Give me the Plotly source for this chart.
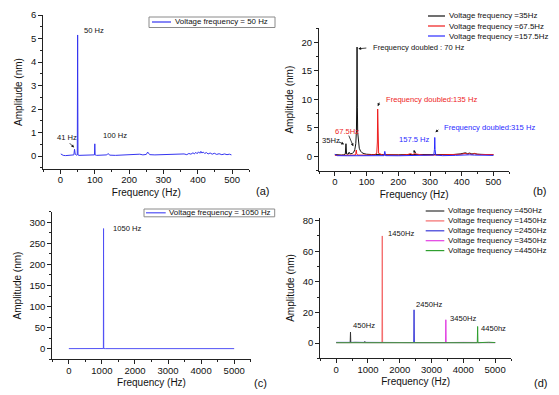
import plotly.graph_objects as go

W, H = 559, 395

# ---------------- data ----------------
# (a) voltage frequency 50 Hz
freq_a = [1, 3, 5, 8, 15, 25, 35, 39, 41, 43, 46, 49, 50, 51, 54, 65, 80, 95, 99, 100,
          101, 105, 120, 135, 139, 143, 160, 175, 190, 205, 220, 231, 240, 250, 254, 256, 260, 275, 290, 305,
          320, 335, 350, 360, 368, 374, 380, 386, 390, 394, 398, 402, 406, 409, 412, 416, 420, 425, 430, 436,
          442, 448, 455, 462, 470, 478, 485, 492, 498]
amp_a = [0.09, 0.06, 0.03, 0.03, 0.02, 0.03, 0.03, 0.05, 0.29, 0.08, 0.04, 0.05, 5.15, 0.05, 0.03, 0.03, 0.04, 0.03, 0.05, 0.52,
         0.05, 0.03, 0.04, 0.05, 0.11, 0.04, 0.03, 0.04, 0.06, 0.04, 0.05, 0.08, 0.05, 0.07, 0.17, 0.12, 0.06, 0.05, 0.06, 0.04,
         0.05, 0.06, 0.07, 0.09, 0.06, 0.11, 0.08, 0.14, 0.09, 0.16, 0.1, 0.18, 0.12, 0.2, 0.13, 0.17, 0.11, 0.15, 0.09, 0.13,
         0.08, 0.12, 0.07, 0.1, 0.06, 0.09, 0.06, 0.08, 0.05]
name_a = "Voltage frequency = 50 Hz"

# (b) 35 Hz, 67.5 Hz, 157.5 Hz
freq_b35 = [0, 5, 12, 20, 28, 33, 35, 37, 42, 45, 48, 55, 60, 63, 66, 68, 69, 70, 71, 72,
            74, 77, 81, 86, 92, 100, 115, 130, 150, 175, 200, 225, 250, 275, 300, 325, 350, 375, 395, 405,
            412, 418, 425, 432, 440, 450, 465, 480, 500]
amp_b35 = [0.3, 0.25, 0.2, 0.2, 0.25, 0.4, 2.2, 0.4, 0.35, 0.7, 0.4, 0.5, 0.75, 1.2, 2.2, 4.5, 9.0, 19.2, 8.5, 4.2,
           2.3, 1.4, 0.9, 0.6, 0.45, 0.35, 0.3, 0.28, 0.25, 0.25, 0.25, 0.3, 0.3, 0.25, 0.25, 0.25, 0.3, 0.3, 0.4, 0.5,
           0.6, 0.45, 0.55, 0.4, 0.45, 0.35, 0.3, 0.3, 0.25]
freq_b67 = [0, 20, 45, 64, 66, 67.5, 69, 72, 100, 125, 132, 134, 135, 136, 138, 150, 180, 210, 230, 238,
            245, 252, 260, 268, 280, 310, 350, 380, 400, 410, 418, 425, 432, 440, 448, 460, 480, 500]
amp_b67 = [0.15, 0.15, 0.15, 0.2, 0.5, 1.1, 0.4, 0.2, 0.2, 0.25, 0.5, 2.5, 8.3, 2.5, 0.5, 0.25, 0.2, 0.2, 0.3, 0.45,
           0.3, 0.45, 0.35, 0.25, 0.2, 0.2, 0.25, 0.3, 0.35, 0.5, 0.35, 0.45, 0.3, 0.5, 0.35, 0.3, 0.35, 0.3]
freq_b157 = [0, 3, 8, 40, 80, 120, 155, 157.5, 160, 200, 250, 290, 312, 314, 315, 316, 318, 340, 380, 400,
             415, 425, 440, 460, 480, 500]
amp_b157 = [0.35, 0.3, 0.1, 0.08, 0.08, 0.08, 0.1, 0.85, 0.1, 0.08, 0.1, 0.1, 0.2, 1.2, 3.3, 1.2, 0.2, 0.1, 0.15, 0.2,
            0.3, 0.25, 0.2, 0.2, 0.15, 0.15]
names_b = ["Voltage frequency =35Hz", "Voltage frequency =67.5Hz", "Voltage frequency =157.5Hz"]

# (c) 1050 Hz
freq_c = [0, 500, 1000, 1045, 1050, 1055, 1100, 2000, 3000, 4000, 5000]
amp_c = [0.3, 0.3, 0.3, 0.5, 285, 0.5, 0.3, 0.3, 0.3, 0.3, 0.3]
name_c = "Voltage frequency = 1050 Hz"

# (d) 450 ... 4450 Hz
freq_d450 = [0, 300, 440, 450, 460, 600, 890, 900, 910, 1500, 2500, 3500, 4500, 5000]
amp_d450 = [0.3, 0.3, 0.3, 7.2, 0.3, 0.4, 0.3, 1.0, 0.3, 0.3, 0.3, 0.3, 0.3, 0.3]
freq_d1450 = [0, 1000, 1440, 1450, 1460, 2000, 3000, 4000, 5000]
amp_d1450 = [0.3, 0.3, 0.3, 70.0, 0.3, 0.3, 0.3, 0.3, 0.3]
freq_d2450 = [0, 450, 900, 2440, 2450, 2460, 3000, 4000, 5000]
amp_d2450 = [0.4, 0.6, 0.4, 0.3, 21.7, 0.3, 0.3, 0.3, 0.3]
freq_d3450 = [0, 1000, 3440, 3450, 3460, 4000, 5000]
amp_d3450 = [0.3, 0.3, 0.3, 15.2, 0.3, 0.4, 0.3]
freq_d4450 = [0, 1000, 2000, 3000, 4000, 4440, 4450, 4460, 4800, 5000]
amp_d4450 = [0.2, 0.2, 0.2, 0.2, 0.2, 0.2, 10.8, 0.2, 0.5, 0.3]
names_d = ["Voltage frequency =450Hz", "Voltage frequency =1450Hz", "Voltage frequency =2450Hz",
           "Voltage frequency =3450Hz", "Voltage frequency =4450Hz"]

# ---------------- styles ----------------
FONT = "Liberation Sans, Arial, sans-serif"
AX = "#222222"
col_a = "#3535f0"
cols_b = ["#111111", "#ee1c1c", "#2a2aff"]
col_c = "#5050f5"
cols_d = ["#333333", "#f46a6a", "#3a3ad8", "#e23ee2", "#2f9f2f"]
TICK_SIZE = 9.5
TITLE_SIZE = 10


def px(x):
    return x / W


def py(y):
    return 1 - y / H


fig = go.Figure()

fig.add_trace(go.Scatter(x=freq_a, y=amp_a, name=name_a, mode="lines",
                         line=dict(color=col_a, width=1), xaxis="x", yaxis="y", showlegend=False))
for f, a, n, c in zip([freq_b35, freq_b67, freq_b157], [amp_b35, amp_b67, amp_b157], names_b, cols_b):
    fig.add_trace(go.Scatter(x=f, y=a, name=n, mode="lines", line=dict(color=c, width=1),
                             xaxis="x2", yaxis="y2", showlegend=False))
fig.add_trace(go.Scatter(x=freq_c, y=amp_c, name=name_c, mode="lines",
                         line=dict(color=col_c, width=1), xaxis="x3", yaxis="y3", showlegend=False))
for f, a, n, c in zip([freq_d450, freq_d1450, freq_d2450, freq_d3450, freq_d4450],
                      [amp_d450, amp_d1450, amp_d2450, amp_d3450, amp_d4450], names_d, cols_d):
    fig.add_trace(go.Scatter(x=f, y=a, name=n, mode="lines", line=dict(color=c, width=1),
                             xaxis="x4", yaxis="y4", showlegend=False))


def xax(dom, rng, dt, mdt, anchor):
    return dict(domain=[px(dom[0]), px(dom[1])], range=rng, anchor=anchor,
                showline=True, linecolor=AX, linewidth=1, mirror=False,
                ticks="outside", ticklen=4, tickwidth=1, tickcolor=AX, tick0=0, dtick=dt,
                minor=dict(ticks="outside", ticklen=2, tickwidth=1, tickcolor=AX, dtick=mdt, tick0=0, showgrid=False),
                showgrid=False, zeroline=False, automargin=False, ticklabelstandoff=-2,
                tickfont=dict(family=FONT, size=TICK_SIZE, color="#111"),
                title=dict(text="Frequency (Hz)", font=dict(family=FONT, size=TITLE_SIZE, color="#111"), standoff=4))


def yax(dom, rng, dt, mdt, anchor):
    return dict(domain=[py(dom[1]), py(dom[0])], range=rng, anchor=anchor,
                showline=True, linecolor=AX, linewidth=1, mirror=False,
                ticks="outside", ticklen=4, tickwidth=1, tickcolor=AX, tick0=0, dtick=dt,
                minor=dict(ticks="outside", ticklen=2, tickwidth=1, tickcolor=AX, dtick=mdt, tick0=0, showgrid=False),
                showgrid=False, zeroline=False, automargin=False,
                tickfont=dict(family=FONT, size=TICK_SIZE, color="#111"),
                title=dict(text="Amplitude (nm)", font=dict(family=FONT, size=TITLE_SIZE, color="#111"), standoff=6))


fig.update_layout(
    width=W, height=H, margin=dict(l=0, r=0, t=0, b=0),
    paper_bgcolor="white", plot_bgcolor="white", showlegend=False,
    font=dict(family=FONT, size=9, color="#111"),
    xaxis=xax((43.3, 249.3), [-50, 550], 100, 50, "y"),
    yaxis=yax((15, 169), [-0.55, 6.0], 1, 0.5, "x"),
    xaxis2=xax((319, 509.3), [-50, 550], 100, 50, "y2"),
    yaxis2=yax((28.3, 171), [-2.6, 22.5], 5, 2.5, "x2"),
    xaxis3=xax((52.3, 250.7), [-500, 5500], 1000, 500, "y3"),
    yaxis3=yax((211.7, 359.3), [-25, 325], 50, 25, "x3"),
    xaxis4=xax((320.3, 511), [-500, 5500], 1000, 500, "y4"),
    yaxis4=yax((217.6, 358.3), [-10, 82], 20, 10, "x4"),
)

ann = []
shapes = []


def txt(x, y, t, xref, yref, color="#111", size=7.6, xanchor="left", yanchor="middle"):
    ann.append(dict(x=x, y=y, text=t, xref=xref, yref=yref, showarrow=False, xanchor=xanchor, yanchor=yanchor,
                    font=dict(family=FONT, size=size, color=color)))


def arrow(x0, y0, x1, y1, xref, yref, color="#111"):
    ann.append(dict(x=x1, y=y1, ax=x0, ay=y0, xref=xref, yref=yref, axref=xref, ayref=yref, text="",
                    showarrow=True, arrowhead=2, arrowsize=0.7, arrowwidth=0.8, arrowcolor=color, standoff=0))


# panel (a) annotations
txt(62.6, 5.36, "50 Hz", "x", "y")
txt(-16, 0.78, "41 Hz", "x", "y")
arrow(22.7, 0.61, 39.5, 0.36, "x", "y")
txt(118, 0.89, "100 Hz", "x", "y")

# panel (b) annotations
txt(112.9, 19.1, "Frequency doubled : 70 Hz", "x2", "y2", cols_b[0])
arrow(104, 19.05, 74, 18.9, "x2", "y2", cols_b[0])
txt(154.8, 9.97, "Frequency doubled:135 Hz", "x2", "y2", cols_b[1])
arrow(142, 9.7, 135.5, 8.8, "x2", "y2", cols_b[0])
txt(338.6, 5.1, "Frequency doubled:315 Hz", "x2", "y2", cols_b[2])
arrow(331, 4.87, 317, 4.2, "x2", "y2", cols_b[0])
txt(196.7, 2.94, "157.5 Hz", "x2", "y2", cols_b[2])
arrow(242, 1.18, 256, 0.58, "x2", "y2", cols_b[0])
txt(-6, 4.4, "67.5Hz", "x2", "y2", cols_b[1])
arrow(42, 3.9, 58, 1.76, "x2", "y2", cols_b[0])
txt(-47, 2.76, "35Hz", "x2", "y2", cols_b[0])
arrow(8, 2.64, 29, 2.1, "x2", "y2", cols_b[0])

# panel (c)
txt(1276, 285, "1050 Hz", "x3", "y3")

# panel (d)
txt(456, 11.5, "450Hz", "x4", "y4")
txt(1567, 71.5, "1450Hz", "x4", "y4")
txt(2457, 25, "2450Hz", "x4", "y4")
txt(3508, 16.3, "3450Hz", "x4", "y4")
txt(4493, 9.5, "4450hz", "x4", "y4")

# panel tags
for t, x, y in [("(a)", 262, 190.7), ("(b)", 539.5, 190.7), ("(c)", 260.5, 382.7), ("(d)", 540, 382.7)]:
    txt(px(x), py(y), t, "paper", "paper", size=11, xanchor="center")


# manual legends (compact rows, short line samples)
def legend(names, colors, x_line0, x_line1, x_text, ys, size, box=None):
    if box is not None:
        shapes.append(dict(type="rect", xref="paper", yref="paper", x0=px(box[0]), x1=px(box[1]),
                           y0=py(box[3]), y1=py(box[2]), line=dict(color="#8a8a8a", width=1),
                           fillcolor="white", layer="above"))
    for n, c, y in zip(names, colors, ys):
        shapes.append(dict(type="line", xref="paper", yref="paper", x0=px(x_line0), x1=px(x_line1),
                           y0=py(y), y1=py(y), line=dict(color=c, width=1.2), layer="above"))
        txt(px(x_text), py(y), n, "paper", "paper", size=size)


legend([name_a], [col_a], 152, 171, 172.5, [22], 7.9, box=(149, 275, 17, 27.5))
legend(names_b, cols_b, 428, 445, 447, [16, 26, 36], 7.9)
legend([name_c], [col_c], 146, 165.7, 166.5, [212.8], 7.9, box=(144, 274.7, 209, 216.8))
legend(names_d, cols_d, 425.7, 444.3, 446, [211, 220.9, 230.8, 240.7, 250.6], 8.0)

fig.update_layout(annotations=ann, shapes=shapes)

fig.write_html("out.html", config={"displayModeBar": False},
               post_script="document.body.style.margin='0';document.body.style.padding='0';")
